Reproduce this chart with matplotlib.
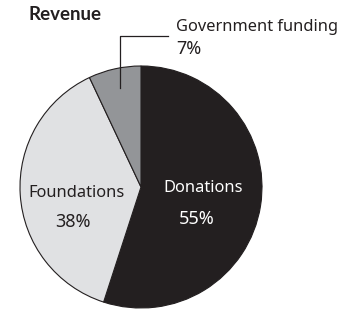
import matplotlib.pyplot as plt

plt.rcParams['font.family'] = ['Noto Sans', 'DejaVu Sans']

# data
labels = ['Donations', 'Foundations', 'Government funding']
values = [55, 38, 7]
colors = ['#231f20', '#e0e1e3', '#939598']

W, H = 343, 310
fig = plt.figure(figsize=(W / 100, H / 100), dpi=100)
ax = fig.add_axes([0, 0, 1, 1])

cx, cy, r = 141, H - 187, 121
ax.pie(values, colors=colors, startangle=90, counterclock=False,
       center=(cx, cy), radius=r, frame=True,
       wedgeprops=dict(edgecolor='#231f20', linewidth=0.8))
ax.set_xlim(0, W)
ax.set_ylim(0, H)
ax.set_aspect('equal')
ax.axis('off')

fs = 11.8
pfs = 13
ax.text(28, H - 15, 'Revenue', fontsize=13.5, fontweight='bold', family='Lato',
        color='#231f20', va='center', ha='left')

ax.text(203, H - 188, labels[0], fontsize=fs, color='white', ha='center', va='center')
ax.text(197, H - 219, f'{values[0]}%', fontsize=pfs, color='white', ha='center', va='center')
ax.text(77, H - 193, labels[1], fontsize=fs, color='#231f20', ha='center', va='center')
ax.text(73, H - 222, f'{values[1]}%', fontsize=pfs, color='#231f20', ha='center', va='center')

ax.text(176, H - 27, labels[2], fontsize=fs, color='#231f20', ha='left', va='center')
ax.text(176, H - 49, f'{values[2]}%', fontsize=pfs, color='#231f20', ha='left', va='center')
ax.plot([120, 120, 168], [H - 88, H - 36, H - 36], color='#231f20', linewidth=0.9)

fig.savefig('out.png', dpi=100)
